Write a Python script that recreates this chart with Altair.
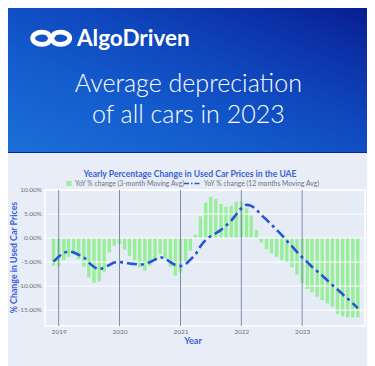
import altair as alt
import pandas as pd

# ---------------- data ----------------
months = pd.date_range("2018-12-01", "2023-12-01", freq="MS").strftime("%Y-%m-%d").tolist()

# YoY % change, 3-month moving average (bars)
yoy_3m = [
    -5.8,                                                                      # Dec 2018
    -5.9, -4.6, -3.9, -3.4, -4.4, -6.0, -8.2, -9.3, -9.0, -7.0, -3.0, -1.6,    # 2019
    -1.2, -2.4, -3.7, -4.6, -6.1, -6.8, -5.8, -4.8, -3.3, -4.2, -6.0, -7.8,    # 2020
    -7.2, -4.8, -2.6, 0.7, 4.5, 7.4, 8.6, 8.1, 7.1, 6.5, 6.7, 7.6,             # 2021
    7.6, 6.2, 4.7, 1.7, -0.9, -2.3, -3.2, -3.9, -4.6, -5.1, -6.1, -7.6,        # 2022
    -9.4, -10.6, -11.3, -12.2, -12.9, -13.6, -14.3, -15.8, -16.3, -16.5, -16.5, -16.5,  # 2023
]

# YoY % change, 12-month moving average (dash-dot line)
yoy_12m = [
    -4.9,
    -3.9, -3.1, -2.8, -3.0, -3.5, -4.0, -5.1, -6.0, -6.5, -6.1, -5.6, -5.1,
    -5.0, -5.1, -5.3, -5.4, -5.5, -5.4, -5.0, -4.5, -4.0, -4.3, -5.0, -5.6,
    -5.8, -5.4, -4.5, -3.4, -1.7, -0.4, 0.4, 1.0, 1.7, 2.6, 3.6, 4.9,
    6.2, 6.9, 6.7, 5.9, 4.8, 3.8, 2.8, 1.7, 0.6, -0.6, -1.7, -2.9,
    -4.0, -5.0, -6.0, -6.9, -7.8, -8.8, -9.8, -10.7, -11.7, -12.6, -13.6, -14.6,
]

years = [2019, 2020, 2021, 2022, 2023]
year_ticks = ["2019-01-01", "2020-01-01", "2021-01-01", "2022-01-01", "2023-01-01"]
y_ticks = [-15, -10, -5, 0, 5, 10]
y_tick_labels = ["-15.00%", "-10.00%", "-5.00%", "0.00%", "5.00%", "10.00%"]

brand_text = "AlgoDriven"
headline_1 = "Average depreciation"
headline_2 = "of all cars in 2023"
chart_title = "Yearly Percentage Change in Used Car Prices in the UAE"
legend_bar = "YoY % change (3-month Moving Avg)"
legend_line = "YoY % change (12 months Moving Avg)"
y_title = "% Change in Used Car Prices"
x_title = "Year"

df = pd.DataFrame({"month": months, "yoy3": yoy_3m, "yoy12": yoy_12m})
ytick_df = pd.DataFrame({"v": y_ticks, "lab": y_tick_labels})

# ---------------- layout ----------------
W, H = 320, 136
PAD = {"left": 37, "top": 182, "right": 2, "bottom": 40}   # total 359 x 358


def px(X):  # page x -> plot-relative x
    return X - 45


def py(Y):  # page y -> plot-relative y
    return Y - 190


BLUE = "#3a62d6"
GREEN = "#90ee90"
LINE = "#2456d6"
GREY = "#6f7380"
FONT = "Lato"

x_scale = alt.Scale(
    type="utc",
    domain=[alt.DateTime(year=2018, month=11, date=10, utc=True),
            alt.DateTime(year=2023, month=12, date=14, utc=True)],
)
y_scale = alt.Scale(domain=[-18.3, 10], zero=False, nice=False)

x_axis = alt.Axis(
    values=[alt.DateTime(year=y, month=1, date=1, utc=True) for y in years],
    format="%Y", formatType="utc", grid=False, ticks=False, domain=False,
    labelFont=FONT, labelFontSize=6.5, labelColor=GREY, labelPadding=2, labelOverlap=False,
    title=x_title, titleFont=FONT, titleFontSize=9, titleFontWeight="bold",
    titleColor=BLUE, titleX=147.5, titleY=14.7, titleBaseline="middle", titleAlign="center",
)
y_axis = alt.Axis(
    values=y_ticks, labels=False, grid=False, ticks=False, domain=False,
    title=y_title, titleFont=FONT, titleFontSize=8.8, titleFontWeight="bold",
    titleColor=BLUE, titleX=-32, titleY=67, titleAngle=270,
    titleBaseline="middle", titleAlign="center",
)

one = pd.DataFrame({"k": [0]})

banner_fill = alt.LinearGradient(
    gradient="linear", x1=0, y1=1, x2=1, y2=0,
    stops=[
        alt.GradientStop(color="#1c6fd8", offset=0),
        alt.GradientStop(color="#135bcd", offset=0.35),
        alt.GradientStop(color="#0f47bd", offset=0.6),
        alt.GradientStop(color="#0b2ea4", offset=0.85),
        alt.GradientStop(color="#081d8f", offset=1),
    ],
)

banner = alt.Chart(one).mark_rect(fill=banner_fill).encode(
    x=alt.value(-PAD["left"]), x2=alt.value(W + PAD["right"]),
    y=alt.value(-PAD["top"]), y2=alt.value(py(152.5)),
)
banner_edge = alt.Chart(one).mark_rule(color="#0b2a8f", strokeWidth=1.2).encode(
    x=alt.value(-PAD["left"]), x2=alt.value(W + PAD["right"]), y=alt.value(py(152.5)),
)

logo_path = ("M -0.15 -0.22 A 0.45 0.3 0 1 0 -0.15 0.22 "
             "L 0.15 -0.22 A 0.45 0.3 0 1 1 0.15 0.22 Z")
logo = alt.Chart(one).mark_point(
    shape=logo_path, filled=False, stroke="white", strokeWidth=4.8, size=1672, opacity=1,
).encode(x=alt.value(px(51.2)), y=alt.value(py(38.3)))


def label(text, X, Y, **kw):
    return alt.Chart(pd.DataFrame({"t": [text]})).mark_text(**kw).encode(
        text="t:N", x=alt.value(px(X)), y=alt.value(py(Y)))


brand = label(brand_text, 77, 45.7, font=FONT, fontSize=22.5, fontWeight="bold",
              color="white", align="left", baseline="alphabetic")
head1 = label(headline_1, 188.3, 92.2, font=FONT, fontSize=25, fontWeight=300,
              color="white", align="center", baseline="alphabetic")
head2 = label(headline_2, 188.3, 122.5, font=FONT, fontSize=25, fontWeight=300,
              color="white", align="center", baseline="alphabetic")
ctitle = label(chart_title, 190, 176.5, font=FONT, fontSize=8.6, fontWeight="bold",
               color=BLUE, align="center", baseline="alphabetic")

leg_sq = alt.Chart(one).mark_square(size=25, color=GREEN, opacity=0.9).encode(
    x=alt.value(px(69)), y=alt.value(py(183.5)))
leg_t1 = label(legend_bar, 75, 183.5, font=FONT, fontSize=6.8, color=GREY,
               align="left", baseline="middle")
leg_ln = alt.Chart(one).mark_rule(color=LINE, strokeWidth=1.6, strokeDash=[5, 2, 1.5, 2]).encode(
    x=alt.value(px(184)), x2=alt.value(px(201)), y=alt.value(py(183.5)))
leg_t2 = label(legend_line, 204, 183.5, font=FONT, fontSize=6.8, color=GREY,
               align="left", baseline="middle")

# ---------------- data layers ----------------
base = alt.Chart(df)
bars = base.mark_bar(size=3.4, color=GREEN, opacity=0.9).encode(
    x=alt.X("month:T", scale=x_scale, axis=x_axis),
    y=alt.Y("yoy3:Q", scale=y_scale, axis=y_axis),
    y2=alt.datum(0),
)
hgrid = alt.Chart(ytick_df).mark_rule(color="white", strokeWidth=1).encode(
    y=alt.Y("v:Q", scale=y_scale))
ylabels = alt.Chart(ytick_df).mark_text(
    font=FONT, fontSize=6.5, color=GREY, align="right", baseline="middle",
).encode(y=alt.Y("v:Q", scale=y_scale), x=alt.value(-3), text="lab:N")
vgrid = alt.Chart(pd.DataFrame({"d": year_ticks})).mark_rule(color="#7f8dab", strokeWidth=1).encode(
    x=alt.X("d:T", scale=x_scale))
line = base.mark_line(color=LINE, strokeWidth=2.6, strokeDash=[10, 4, 3, 4],
                      interpolate="monotone").encode(
    x=alt.X("month:T", scale=x_scale), y=alt.Y("yoy12:Q", scale=y_scale))

chart = alt.layer(
    banner, banner_edge, logo, brand, head1, head2, ctitle,
    leg_sq, leg_t1, leg_ln, leg_t2,
    bars, hgrid, ylabels, vgrid, line,
).properties(
    width=W, height=H, padding=PAD, autosize=alt.AutoSizeParams(type="none"),
).configure(background="#e8edf8").configure_view(fill="#e5ecf6", stroke="white", strokeWidth=1.5)

chart.save("out.html", embed_options={"renderer": "svg", "actions": False})
